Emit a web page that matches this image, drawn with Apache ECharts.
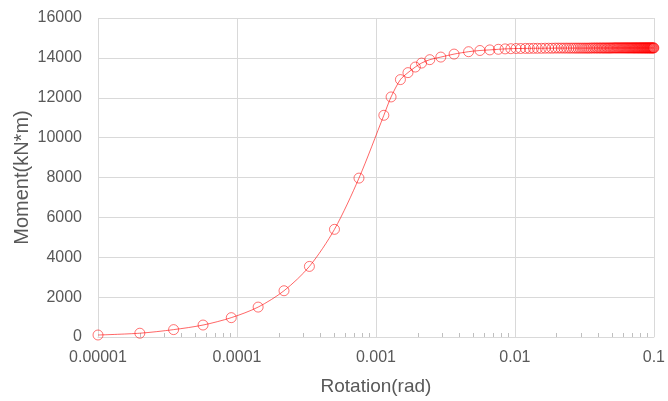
<!DOCTYPE html>
<html>
<head>
<meta charset="utf-8">
<script src="https://cdn.jsdelivr.net/npm/echarts@6/dist/echarts.min.js"></script>
<style>html,body{margin:0;padding:0;background:#fff;}#c{width:668px;height:401px;}</style>
</head>
<body>
<div id="c"></div>
<script>
const rotation = [
  0.00001, 0.00002, 0.000035, 0.000057, 0.000091, 0.000142, 0.000218, 0.000332, 0.000503, 0.000755,
  0.00114, 0.001285, 0.0015, 0.0017, 0.00192, 0.00213, 0.00244, 0.00293, 0.00365, 0.00464,
  0.0056, 0.0066, 0.0076, 0.0085, 0.00935, 0.0102, 0.011, 0.0119, 0.0127, 0.0136,
  0.0145, 0.0155, 0.0165, 0.0175, 0.0185, 0.0195,
  0.0205, 0.0215, 0.0225, 0.0235, 0.0245, 0.0255, 0.0265, 0.0275, 0.0285, 0.0295,
  0.0305, 0.0315, 0.0325, 0.0335, 0.0345, 0.0355, 0.0365, 0.0375, 0.0385, 0.0395,
  0.0405, 0.0415, 0.0425, 0.0435, 0.0445, 0.0455, 0.0465, 0.0475, 0.0485, 0.0495,
  0.0505, 0.0515, 0.0525, 0.0535, 0.0545, 0.0555, 0.0565, 0.0575, 0.0585, 0.0595,
  0.0605, 0.0615, 0.0625, 0.0635, 0.0645, 0.0655, 0.0665, 0.0675, 0.0685, 0.0695,
  0.0705, 0.0715, 0.0725, 0.0735, 0.0745, 0.0755, 0.0765, 0.0775, 0.0785, 0.0795,
  0.0805, 0.0815, 0.0825, 0.0835, 0.0845, 0.0855, 0.0865, 0.0875, 0.0885, 0.0895,
  0.0905, 0.0915, 0.0925, 0.0935, 0.0945, 0.0955, 0.0965, 0.0975, 0.0985, 0.0995,
  0.1
];
const moment = [
  100, 190, 370, 600, 970, 1500, 2320, 3540, 5400, 7970,
  11120, 12040, 12910, 13260, 13540, 13740, 13910, 14040, 14190, 14310,
  14370, 14400, 14430, 14450, 14460, 14470, 14470, 14475, 14475, 14480,
  14480, 14480, 14485, 14485, 14485, 14490,
  14490, 14490, 14490, 14490, 14490, 14490, 14490, 14490, 14490, 14490,
  14490, 14490, 14490, 14490, 14490, 14495, 14495, 14495, 14495, 14495,
  14495, 14495, 14495, 14495, 14495, 14495, 14495, 14495, 14495, 14495,
  14500, 14500, 14500, 14500, 14500, 14500, 14500, 14500, 14500, 14500,
  14500, 14500, 14500, 14500, 14500, 14500, 14500, 14500, 14500, 14500,
  14500, 14500, 14500, 14500, 14500, 14500, 14500, 14500, 14500, 14500,
  14500, 14500, 14500, 14500, 14500, 14500, 14500, 14500, 14500, 14500,
  14500, 14500, 14500, 14500, 14500, 14500, 14500, 14500, 14500, 14500,
  14500
];
const xTickLabels = ['0.00001', '0.0001', '0.001', '0.01', '0.1'];
const yTickLabels = ['0', '2000', '4000', '6000', '8000', '10000', '12000', '14000', '16000'];
const minorTickValues = [
  0.00002, 0.00003, 0.00004, 0.00005, 0.00006, 0.00007, 0.00008, 0.00009,
  0.0002, 0.0003, 0.0004, 0.0005, 0.0006, 0.0007, 0.0008, 0.0009,
  0.002, 0.003, 0.004, 0.005, 0.006, 0.007, 0.008, 0.009,
  0.02, 0.03, 0.04, 0.05, 0.06, 0.07, 0.08, 0.09
];

const points = rotation.map((r, i) => [r, moment[i]]);
const font = 'Liberation Sans';
const chart = echarts.init(document.getElementById('c'));
chart.setOption({
  animation: false,
  backgroundColor: '#fff',
  grid: { left: 98, right: 11, top: 18, bottom: 64, containLabel: false },
  xAxis: [{
    type: 'log', logBase: 10, min: 0.00001, max: 0.1, splitNumber: 4,
    name: 'Rotation(rad)', nameLocation: 'middle', nameGap: 40, nameMoveOverlap: false,
    nameTextStyle: { fontFamily: font, fontSize: 19, color: '#595959' },
    axisLine: { show: true, lineStyle: { color: '#d9d9d9', width: 1 } },
    axisTick: { show: false },
    axisLabel: { fontFamily: font, fontSize: 16, color: '#595959', margin: 13,
      formatter: (v, i) => xTickLabels[i] },
    splitLine: { show: true, lineStyle: { color: '#d9d9d9', width: 1 } }
  }, {
    type: 'log', logBase: 10, min: 0.00001, max: 0.1, position: 'bottom',
    axisLine: { show: false },
    axisLabel: { show: false },
    splitLine: { show: false },
    axisTick: { show: true, inside: true, length: 4, customValues: minorTickValues,
      lineStyle: { color: '#bfbfbf', width: 1 } }
  }],
  yAxis: {
    type: 'value', min: 0, max: 16000, interval: 2000,
    name: 'Moment(kN*m)', nameLocation: 'middle', nameGap: 66, nameMoveOverlap: false,
    nameTextStyle: { fontFamily: font, fontSize: 20, color: '#595959' },
    axisLine: { show: false },
    axisTick: { show: false },
    axisLabel: { fontFamily: font, fontSize: 16, color: '#595959', margin: 16,
      formatter: (v) => yTickLabels[Math.round(v / 2000)] },
    splitLine: { show: true, lineStyle: { color: '#d9d9d9', width: 1 } }
  },
  series: [{
    type: 'line', xAxisIndex: 0, data: points, smooth: 0.3,
    symbol: 'circle', symbolSize: 10, showAllSymbol: true,
    lineStyle: { color: 'rgba(255,0,0,0.6)', width: 1 },
    itemStyle: { color: 'rgba(255,255,255,0)', borderColor: 'rgba(255,0,0,0.55)', borderWidth: 1 }
  }]
});
</script>
</body>
</html>
